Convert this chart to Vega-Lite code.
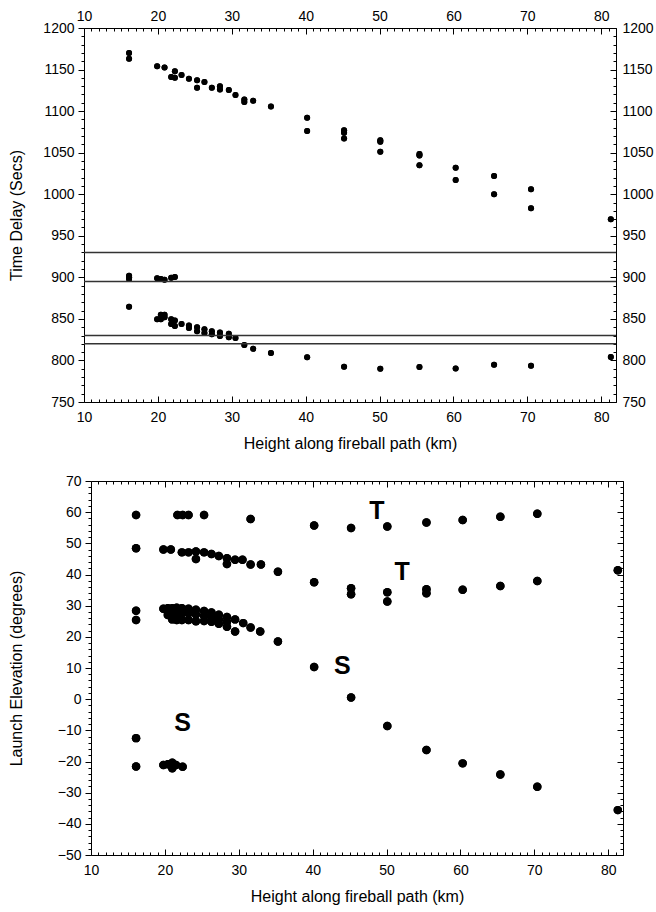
{
  "$schema": "https://vega.github.io/schema/vega-lite/v6.json",
  "padding": {"left": 8, "top": 6, "right": 0, "bottom": 4},
  "datasets": {
    "delay": [
      {"h": 16.1, "t": 1170}, {"h": 16.1, "t": 1163},
      {"h": 19.9, "t": 1154}, {"h": 20.9, "t": 1152.5}, {"h": 21.8, "t": 1141}, {"h": 22.3, "t": 1148}, {"h": 22.3, "t": 1140},
      {"h": 23.2, "t": 1143.5}, {"h": 24.2, "t": 1139}, {"h": 25.3, "t": 1137}, {"h": 25.3, "t": 1128}, {"h": 26.3, "t": 1135},
      {"h": 27.3, "t": 1128}, {"h": 28.4, "t": 1130}, {"h": 28.4, "t": 1126}, {"h": 29.6, "t": 1125.5}, {"h": 30.5, "t": 1119.5},
      {"h": 31.7, "t": 1114}, {"h": 31.7, "t": 1111}, {"h": 32.9, "t": 1112.5}, {"h": 35.3, "t": 1105.5},
      {"h": 40.2, "t": 1092}, {"h": 40.2, "t": 1076}, {"h": 45.2, "t": 1077}, {"h": 45.2, "t": 1074}, {"h": 45.2, "t": 1067},
      {"h": 50.1, "t": 1065}, {"h": 50.1, "t": 1063}, {"h": 50.1, "t": 1051}, {"h": 55.4, "t": 1048.5}, {"h": 55.4, "t": 1046.5},
      {"h": 55.4, "t": 1035}, {"h": 60.3, "t": 1032}, {"h": 60.3, "t": 1017}, {"h": 65.5, "t": 1022}, {"h": 65.5, "t": 1000},
      {"h": 70.5, "t": 1006}, {"h": 70.5, "t": 983}, {"h": 81.3, "t": 970},
      {"h": 16.1, "t": 902}, {"h": 16.1, "t": 900}, {"h": 16.1, "t": 898}, {"h": 16.1, "t": 864.5},
      {"h": 19.9, "t": 899}, {"h": 20.4, "t": 898}, {"h": 20.9, "t": 897}, {"h": 21.8, "t": 899.5}, {"h": 22.3, "t": 900.5},
      {"h": 19.9, "t": 849.5}, {"h": 20.4, "t": 849.5}, {"h": 20.4, "t": 855}, {"h": 20.9, "t": 855}, {"h": 20.9, "t": 852},
      {"h": 21.8, "t": 849.5}, {"h": 21.8, "t": 844}, {"h": 22.3, "t": 848}, {"h": 22.3, "t": 841.5}, {"h": 23.2, "t": 844},
      {"h": 24.2, "t": 842}, {"h": 24.2, "t": 839}, {"h": 25.3, "t": 840}, {"h": 25.3, "t": 835}, {"h": 26.3, "t": 837.5},
      {"h": 26.3, "t": 833}, {"h": 27.3, "t": 835}, {"h": 27.3, "t": 831.5}, {"h": 28.4, "t": 833.5}, {"h": 28.4, "t": 829.5},
      {"h": 29.6, "t": 832}, {"h": 29.6, "t": 828}, {"h": 30.5, "t": 827}, {"h": 31.7, "t": 818.5}, {"h": 32.9, "t": 814},
      {"h": 35.3, "t": 809}, {"h": 40.2, "t": 803.8}, {"h": 45.2, "t": 792.4}, {"h": 50.1, "t": 790}, {"h": 55.4, "t": 792},
      {"h": 60.3, "t": 790.4}, {"h": 65.5, "t": 794.8}, {"h": 70.5, "t": 793.6}, {"h": 81.3, "t": 804}
    ],
    "lines": [{"t": 930}, {"t": 895}, {"t": 830}, {"t": 820}],
    "elev": [
      {"h": 16.1, "e": 59.1}, {"h": 16.1, "e": 48.4}, {"h": 16.1, "e": 28.4}, {"h": 16.1, "e": 25.4}, {"h": 16.1, "e": -12.5}, {"h": 16.1, "e": -21.6},
      {"h": 21.7, "e": 59.1}, {"h": 22.4, "e": 59.1}, {"h": 23.2, "e": 59.1}, {"h": 25.3, "e": 59.1}, {"h": 31.6, "e": 57.8},
      {"h": 40.2, "e": 55.7}, {"h": 45.2, "e": 54.9}, {"h": 50.1, "e": 55.4}, {"h": 55.4, "e": 56.7}, {"h": 60.3, "e": 57.5},
      {"h": 65.4, "e": 58.5}, {"h": 70.4, "e": 59.5},
      {"h": 19.8, "e": 48.0}, {"h": 20.8, "e": 48.0}, {"h": 22.3, "e": 47.1}, {"h": 23.2, "e": 47.1}, {"h": 24.2, "e": 47.4},
      {"h": 24.2, "e": 45.0}, {"h": 25.3, "e": 47.1}, {"h": 26.3, "e": 46.6}, {"h": 27.3, "e": 45.9}, {"h": 28.4, "e": 45.2},
      {"h": 28.4, "e": 43.4}, {"h": 29.5, "e": 44.7}, {"h": 30.5, "e": 44.7}, {"h": 31.6, "e": 43.2}, {"h": 33.0, "e": 43.2},
      {"h": 35.3, "e": 40.9}, {"h": 40.2, "e": 37.5}, {"h": 45.2, "e": 35.6}, {"h": 45.2, "e": 33.7}, {"h": 50.1, "e": 34.3},
      {"h": 50.1, "e": 31.3}, {"h": 55.4, "e": 35.3}, {"h": 55.4, "e": 34.0}, {"h": 60.3, "e": 35.1}, {"h": 65.4, "e": 36.3},
      {"h": 70.4, "e": 37.9}, {"h": 81.3, "e": 41.4},
      {"h": 19.8, "e": 29.0}, {"h": 20.4, "e": 29.2}, {"h": 21.0, "e": 29.2}, {"h": 21.6, "e": 29.3}, {"h": 22.3, "e": 29.2},
      {"h": 23.2, "e": 29.0}, {"h": 24.2, "e": 28.7}, {"h": 25.3, "e": 28.3}, {"h": 26.3, "e": 27.8}, {"h": 27.3, "e": 27.1},
      {"h": 28.4, "e": 26.4}, {"h": 29.5, "e": 25.6}, {"h": 30.6, "e": 24.4}, {"h": 31.6, "e": 23.0}, {"h": 32.9, "e": 21.7},
      {"h": 20.4, "e": 27.0}, {"h": 21.0, "e": 25.6}, {"h": 21.6, "e": 25.4}, {"h": 22.3, "e": 25.4}, {"h": 23.2, "e": 25.4},
      {"h": 24.2, "e": 25.0}, {"h": 25.3, "e": 25.1}, {"h": 26.3, "e": 24.8}, {"h": 27.3, "e": 24.2}, {"h": 28.4, "e": 23.2},
      {"h": 29.5, "e": 21.7},
      {"h": 20.4, "e": 28.0}, {"h": 21.0, "e": 27.4}, {"h": 21.6, "e": 27.5}, {"h": 22.3, "e": 27.5}, {"h": 23.2, "e": 27.6},
      {"h": 24.2, "e": 27.2}, {"h": 25.3, "e": 26.8}, {"h": 26.3, "e": 26.2}, {"h": 27.3, "e": 25.6}, {"h": 28.4, "e": 24.8},
      {"h": 35.3, "e": 18.5}, {"h": 40.2, "e": 10.3}, {"h": 45.2, "e": 0.5}, {"h": 50.1, "e": -8.6}, {"h": 55.4, "e": -16.3},
      {"h": 60.3, "e": -20.6}, {"h": 65.4, "e": -24.2}, {"h": 70.4, "e": -28.1}, {"h": 81.3, "e": -35.6},
      {"h": 19.8, "e": -21.1}, {"h": 20.4, "e": -20.9}, {"h": 21.0, "e": -20.4}, {"h": 21.0, "e": -22.2}, {"h": 21.5, "e": -21.1}, {"h": 22.4, "e": -21.7}
    ],
    "marks": [
      {"h": 48.7, "e": 60.5, "label": "T"}, {"h": 52.1, "e": 40.7, "label": "T"},
      {"h": 44.0, "e": 10.7, "label": "S"}, {"h": 22.4, "e": -7.5, "label": "S"}
    ]
  },
  "config": {
    "font": "Liberation Sans",
    "view": {"stroke": null},
    "axis": {
      "labelFont": "Liberation Sans", "labelFontSize": 14, "labelColor": "#000",
      "titleFont": "Liberation Sans", "titleFontSize": 16, "titleFontWeight": "normal", "titleColor": "#000",
      "domainColor": "#000", "domainWidth": 1, "tickColor": "#000", "tickWidth": 1,
      "grid": false, "labelOverlap": false, "labelFlush": false, "format": "d"
    }
  },
  "columns": 1,
  "spacing": 23,
  "concat": [
    {
      "width": 532, "height": 374,
      "layer": [
        {
          "data": {"name": "delay"},
          "mark": {"type": "point", "filled": true, "opacity": 1, "color": "#000", "size": 36},
          "encoding": {
            "x": {"field": "h", "type": "quantitative", "scale": {"domain": [10, 82], "nice": false, "zero": false},
              "axis": {"orient": "bottom", "title": "Height along fireball path (km)", "titlePadding": 8, "format": "d",
                "values": [10,11,12,13,14,15,16,17,18,19,20,21,22,23,24,25,26,27,28,29,30,31,32,33,34,35,36,37,38,39,40,41,42,43,44,45,46,47,48,49,50,51,52,53,54,55,56,57,58,59,60,61,62,63,64,65,66,67,68,69,70,71,72,73,74,75,76,77,78,79,80,81,82],
                "labelExpr": "datum.value % 10 === 0 ? datum.label : ''",
                "tickSize": {"condition": {"test": "datum.value % 10 === 0", "value": -6}, "value": -3},
                "labelPadding": 14}},
            "y": {"field": "t", "type": "quantitative", "scale": {"domain": [750, 1200], "nice": false, "zero": false},
              "axis": {"orient": "left", "title": "Time Delay (Secs)", "titlePadding": 18, "format": "d",
                "values": [750,760,770,780,790,800,810,820,830,840,850,860,870,880,890,900,910,920,930,940,950,960,970,980,990,1000,1010,1020,1030,1040,1050,1060,1070,1080,1090,1100,1110,1120,1130,1140,1150,1160,1170,1180,1190,1200],
                "labelExpr": "datum.value % 50 === 0 ? datum.label : ''",
                "tickSize": {"condition": {"test": "datum.value % 50 === 0", "value": 6}, "value": 3},
                "labelPadding": 4}}
          }
        },
        {
          "data": {"name": "delay"},
          "mark": {"type": "point", "filled": true, "opacity": 1, "color": "#000", "size": 36},
          "encoding": {
            "x": {"field": "h", "type": "quantitative",
              "axis": {"orient": "top", "title": null, "format": "d",
                "values": [10,11,12,13,14,15,16,17,18,19,20,21,22,23,24,25,26,27,28,29,30,31,32,33,34,35,36,37,38,39,40,41,42,43,44,45,46,47,48,49,50,51,52,53,54,55,56,57,58,59,60,61,62,63,64,65,66,67,68,69,70,71,72,73,74,75,76,77,78,79,80,81,82],
                "labelExpr": "datum.value % 10 === 0 ? datum.label : ''",
                "tickSize": {"condition": {"test": "datum.value % 10 === 0", "value": -6}, "value": -3},
                "labelPadding": 11}},
            "y": {"field": "t", "type": "quantitative",
              "axis": {"orient": "right", "title": null, "format": "d",
                "values": [750,760,770,780,790,800,810,820,830,840,850,860,870,880,890,900,910,920,930,940,950,960,970,980,990,1000,1010,1020,1030,1040,1050,1060,1070,1080,1090,1100,1110,1120,1130,1140,1150,1160,1170,1180,1190,1200],
                "labelExpr": "datum.value % 50 === 0 ? datum.label : ''",
                "tickSize": {"condition": {"test": "datum.value % 50 === 0", "value": -6}, "value": -3},
                "labelPadding": 12}}
          }
        },
        {
          "data": {"name": "lines"},
          "mark": {"type": "rule", "color": "#333", "strokeWidth": 1.5},
          "encoding": {"y": {"field": "t", "type": "quantitative", "axis": null}}
        }
      ],
      "resolve": {"axis": {"x": "independent", "y": "independent"}}
    },
    {
      "width": 539, "height": 374,
      "layer": [
        {
          "data": {"name": "elev"},
          "mark": {"type": "point", "filled": true, "opacity": 1, "color": "#000", "size": 72},
          "encoding": {
            "x": {"field": "h", "type": "quantitative", "scale": {"domain": [10, 82], "nice": false, "zero": false, "range": [7, 539]},
              "axis": {"orient": "bottom", "title": "Height along fireball path (km)", "titlePadding": 8, "format": "d",
                "values": [10,11,12,13,14,15,16,17,18,19,20,21,22,23,24,25,26,27,28,29,30,31,32,33,34,35,36,37,38,39,40,41,42,43,44,45,46,47,48,49,50,51,52,53,54,55,56,57,58,59,60,61,62,63,64,65,66,67,68,69,70,71,72,73,74,75,76,77,78,79,80,81,82],
                "labelExpr": "datum.value % 10 === 0 ? datum.label : ''",
                "tickSize": {"condition": {"test": "datum.value % 10 === 0", "value": -6}, "value": -3},
                "labelPadding": 14}},
            "y": {"field": "e", "type": "quantitative", "scale": {"domain": [-50, 70], "nice": false, "zero": false},
              "axis": {"orient": "left", "title": "Launch Elevation (degrees)", "titlePadding": 33, "format": "d", "offset": -7,
                "values": [-50,-48,-46,-44,-42,-40,-38,-36,-34,-32,-30,-28,-26,-24,-22,-20,-18,-16,-14,-12,-10,-8,-6,-4,-2,0,2,4,6,8,10,12,14,16,18,20,22,24,26,28,30,32,34,36,38,40,42,44,46,48,50,52,54,56,58,60,62,64,66,68,70],
                "labelExpr": "datum.value % 10 === 0 ? datum.label : ''",
                "tickSize": {"condition": {"test": "datum.value % 10 === 0", "value": 6}, "value": 3},
                "labelPadding": 4}}
          }
        },
        {
          "data": {"name": "elev"},
          "mark": {"type": "point", "filled": true, "opacity": 1, "color": "#000", "size": 72},
          "encoding": {
            "x": {"field": "h", "type": "quantitative",
              "axis": {"orient": "top", "title": null, "labels": false,
                "values": [10,11,12,13,14,15,16,17,18,19,20,21,22,23,24,25,26,27,28,29,30,31,32,33,34,35,36,37,38,39,40,41,42,43,44,45,46,47,48,49,50,51,52,53,54,55,56,57,58,59,60,61,62,63,64,65,66,67,68,69,70,71,72,73,74,75,76,77,78,79,80,81,82],
                "tickSize": {"condition": {"test": "datum.value % 10 === 0", "value": -6}, "value": -3}}},
            "y": {"field": "e", "type": "quantitative",
              "axis": {"orient": "right", "title": null, "labels": false,
                "values": [-50,-48,-46,-44,-42,-40,-38,-36,-34,-32,-30,-28,-26,-24,-22,-20,-18,-16,-14,-12,-10,-8,-6,-4,-2,0,2,4,6,8,10,12,14,16,18,20,22,24,26,28,30,32,34,36,38,40,42,44,46,48,50,52,54,56,58,60,62,64,66,68,70],
                "tickSize": {"condition": {"test": "datum.value % 10 === 0", "value": -6}, "value": -3}}}
          }
        },
        {
          "data": {"name": "marks"},
          "mark": {"type": "text", "font": "Liberation Sans", "fontSize": 25, "fontWeight": "bold", "color": "#000"},
          "encoding": {
            "x": {"field": "h", "type": "quantitative", "axis": null},
            "y": {"field": "e", "type": "quantitative", "axis": null},
            "text": {"field": "label"}
          }
        }
      ],
      "resolve": {"axis": {"x": "independent", "y": "independent"}}
    }
  ]
}
